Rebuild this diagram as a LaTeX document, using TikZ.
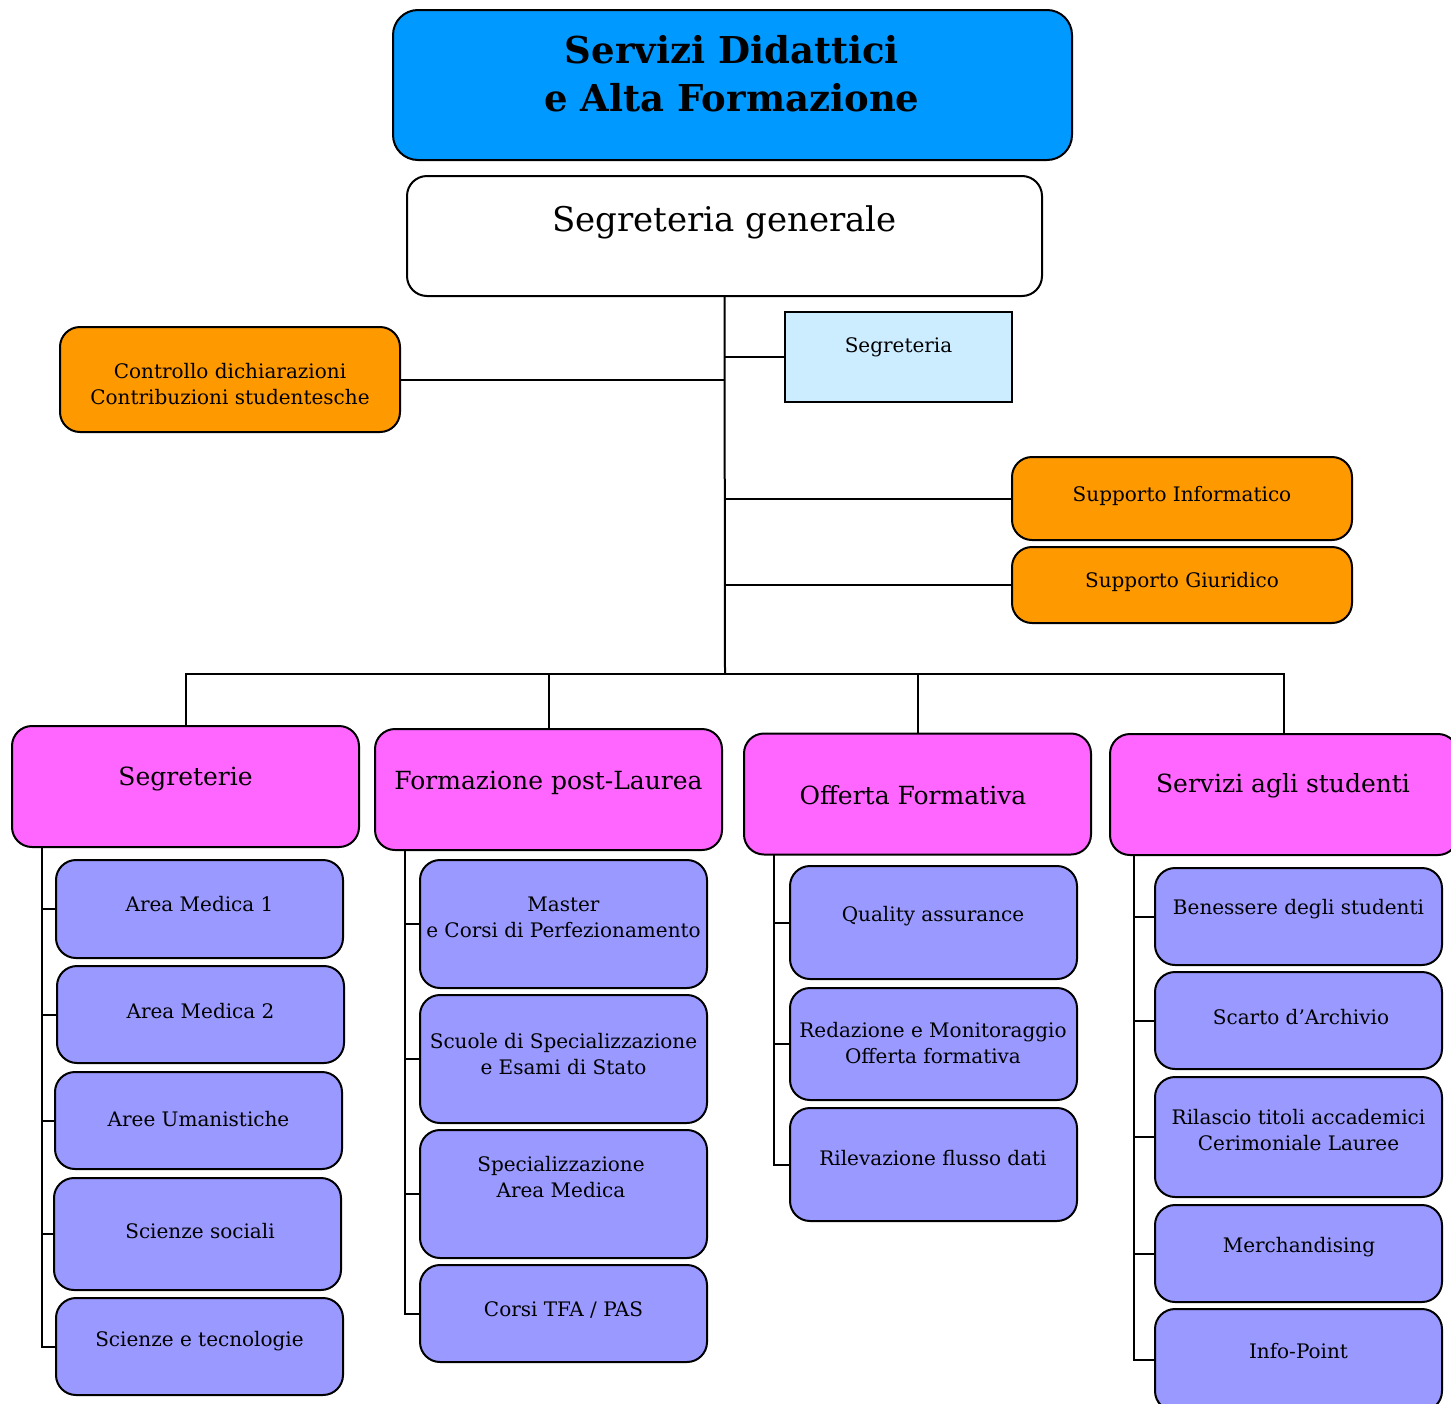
\documentclass[tikz,border=0pt]{standalone}
\usepackage{fontspec}
\setmainfont{DejaVu Serif}
\definecolor{titleblue}{RGB}{0,153,255}
\definecolor{orangebox}{RGB}{255,153,0}
\definecolor{lightblue}{RGB}{204,236,255}
\definecolor{pinkbox}{RGB}{255,102,255}
\definecolor{leafblue}{RGB}{153,153,255}
\begin{document}
\begin{tikzpicture}[x=1pt,y=-1pt,
    box/.style={draw,line width=2pt,rounded corners=20pt,inner sep=0pt},
    head/.style={box,fill=pinkbox,minimum width=347pt,minimum height=121pt},
    leaf/.style={box,fill=leafblue,minimum width=287pt},
    side/.style={box,fill=orangebox},
    txt/.style={align=center,inner sep=0pt,font=\fontsize{20}{26}\selectfont},
    htxt/.style={align=center,inner sep=0pt,font=\fontsize{25}{30}\selectfont},
    link/.style={line width=2pt}]
\useasboundingbox (0,0) rectangle (1451,1403);

% top
\node[box,fill=titleblue,rounded corners=25pt,minimum width=679pt,minimum height=150pt] (top) at (732.5,85) {};
\node[align=center,inner sep=0pt,font=\fontsize{37}{48}\selectfont\bfseries] (topt) at (732,74) {Servizi Didattici\\e Alta Formazione};
\node[box,fill=white,minimum width=635pt,minimum height=120pt] (sg) at (724.5,236) {};
\node[inner sep=0pt,font=\fontsize{34}{40}\selectfont] (sgt) at (724.5,222) {Segreteria generale};

% staff
\node[draw,line width=2pt,fill=lightblue,minimum width=227pt,minimum height=90pt,inner sep=0pt] (segr) at (898.5,357) {};
\node[txt] (segrt) at (898.5,347) {Segreteria};
\node[side,minimum width=340pt,minimum height=105pt] (ctrl) at (230,379.5) {};
\node[txt] (ctrlt) at (230,384) {Controllo dichiarazioni\\Contribuzioni studentesche};
\node[side,minimum width=340pt,minimum height=83pt] (inf) at (1182,498.5) {};
\node[txt] (inft) at (1182,496) {Supporto Informatico};
\node[side,minimum width=340pt,minimum height=76pt] (giu) at (1182,585) {};
\node[txt] (giut) at (1182,582) {Supporto Giuridico};

% areas
\node[head] (segs) at (185.5,786.5) {};
\node[htxt] (segst) at (185.5,779) {Segreterie};
\node[head] (fpl) at (548.5,789.5) {};
\node[htxt] (fplt) at (548.5,783) {Formazione post-Laurea};
\node[head] (of) at (917.5,794) {};
\node[htxt] (oft) at (913,795) {Offerta Formativa};
\node[head,minimum width=348pt] (sas) at (1284,794.5) {};
\node[htxt] (sast) at (1283,786) {Servizi agli studenti};

% segreterie
\node[leaf,minimum height=98pt] (am1) at (199.5,909) {};
\node[txt] at (199.5,904) {Area Medica 1};
\node[leaf,minimum height=97pt] (am2) at (200.5,1014.5) {};
\node[txt] at (200.5,1011) {Area Medica 2};
\node[leaf,minimum height=97pt] (um) at (198.5,1120.5) {};
\node[txt] at (198.5,1119) {Aree Umanistiche};
\node[leaf,minimum height=112pt] (soc) at (197.5,1234) {};
\node[txt] at (200,1231) {Scienze sociali};
\node[leaf,minimum height=97pt] (tec) at (199.5,1346.5) {};
\node[txt] at (199.5,1341) {Scienze e tecnologie};

% post-laurea
\node[leaf,minimum height=128pt] (mas) at (563.5,924) {};
\node[txt] at (563.5,917) {Master\\e Corsi di Perfezionamento};
\node[leaf,minimum height=128pt] (scu) at (563.5,1059) {};
\node[txt] at (563.5,1054) {Scuole di Specializzazione\\e Esami di Stato};
\node[leaf,minimum height=128pt] (spe) at (563.5,1194) {};
\node[txt] at (561,1177.5) {Specializzazione\\Area Medica};
\node[leaf,minimum height=97pt] (tfa) at (563.5,1313.5) {};
\node[txt] at (563.5,1310) {Corsi TFA / PAS};

% offerta
\node[leaf,minimum height=113pt] (qa) at (933.5,922.5) {};
\node[txt] at (933,916) {Quality assurance};
\node[leaf,minimum height=112pt] (red) at (933.5,1044) {};
\node[txt] at (933,1043.5) {Redazione e Monitoraggio\\Offerta formativa};
\node[leaf,minimum height=113pt] (ril) at (933.5,1164.5) {};
\node[txt] at (933,1158) {Rilevazione flusso dati};

% studenti
\node[leaf,minimum height=97pt] (ben) at (1298.5,916.5) {};
\node[txt] at (1298.5,909) {Benessere degli studenti};
\node[leaf,minimum height=97pt] (sca) at (1298.5,1020.5) {};
\node[txt] at (1301,1017) {Scarto d’Archivio};
\node[leaf,minimum height=120pt] (rtl) at (1298.5,1137) {};
\node[txt] at (1298.5,1130) {Rilascio titoli accademici\\Cerimoniale Lauree};
\node[leaf,minimum height=97pt] (mer) at (1298.5,1253.5) {};
\node[txt] at (1299,1247) {Merchandising};
\node[leaf,minimum height=102pt] (inp) at (1298.5,1360) {};
\node[txt] at (1298.5,1351) {Info-Point};

% connectors
\coordinate (bus) at (725,674);
\draw[link] (sg.south) -- (bus);
\draw[link] (ctrl.east) -- (ctrl.east -| bus);
\draw[link] (segr.west) -- (segr.west -| bus);
\draw[link] (inf.west) -- (inf.west -| bus);
\draw[link] (giu.west) -- (giu.west -| bus);
\draw[link] (segs.north) |- (bus) -| (fpl.north);
\draw[link] (bus) -| (of.north);
\draw[link] (bus) -| (sas.north);

\coordinate (s1) at (42,847);
\coordinate (s2) at (405,850);
\coordinate (s3) at (774,854);
\coordinate (s4) at (1134,855);
\draw[link] (s1) |- (tec.west);
\foreach \n in {am1,am2,um,soc} \draw[link] (\n.west) -- (\n.west -| s1);
\draw[link] (s2) |- (tfa.west);
\foreach \n in {mas,scu,spe} \draw[link] (\n.west) -- (\n.west -| s2);
\draw[link] (s3) |- (ril.west);
\foreach \n in {qa,red} \draw[link] (\n.west) -- (\n.west -| s3);
\draw[link] (s4) |- (inp.west);
\foreach \n in {ben,sca,rtl,mer} \draw[link] (\n.west) -- (\n.west -| s4);
\end{tikzpicture}
\end{document}
